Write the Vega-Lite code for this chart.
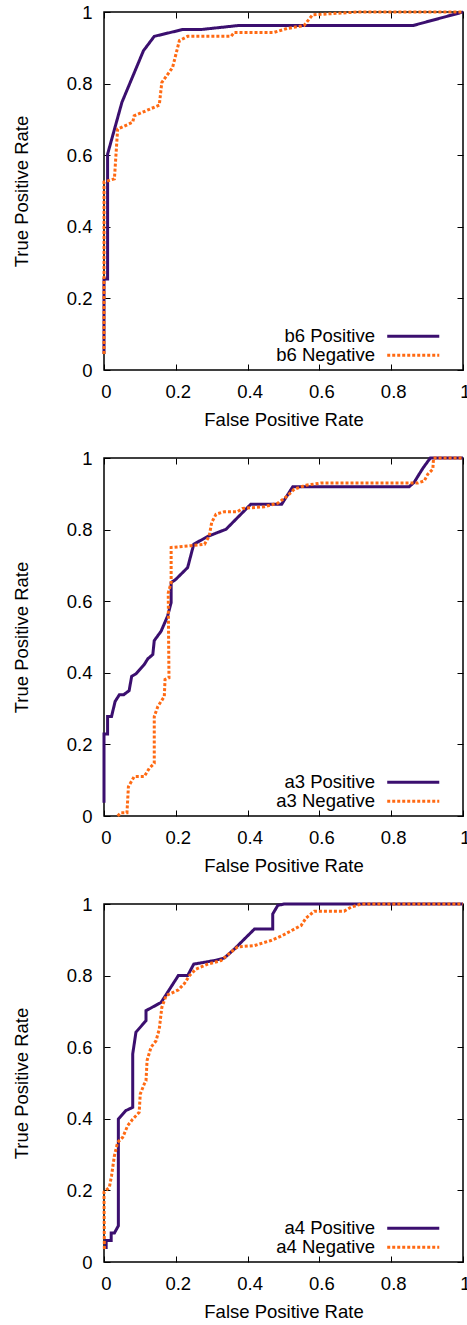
{
  "$schema": "https://vega.github.io/schema/vega-lite/v6.json",
  "autosize": {"type": "pad"},
  "padding": {"left": 11, "top": 2, "right": 0, "bottom": 0},
  "background": "white",
  "datasets": {
    "b6_pos": [
      {"series": "b6 Positive", "fpr": 0, "tpr": 0.045},
      {"series": "b6 Positive", "fpr": 0, "tpr": 0.254},
      {"series": "b6 Positive", "fpr": 0.01, "tpr": 0.254},
      {"series": "b6 Positive", "fpr": 0.01, "tpr": 0.603},
      {"series": "b6 Positive", "fpr": 0.05, "tpr": 0.748},
      {"series": "b6 Positive", "fpr": 0.11, "tpr": 0.892},
      {"series": "b6 Positive", "fpr": 0.14, "tpr": 0.932},
      {"series": "b6 Positive", "fpr": 0.219, "tpr": 0.951},
      {"series": "b6 Positive", "fpr": 0.27, "tpr": 0.951},
      {"series": "b6 Positive", "fpr": 0.372, "tpr": 0.962},
      {"series": "b6 Positive", "fpr": 0.86, "tpr": 0.962},
      {"series": "b6 Positive", "fpr": 1, "tpr": 1}
    ],
    "b6_neg": [
      {"series": "b6 Negative", "fpr": 0, "tpr": 0.045},
      {"series": "b6 Negative", "fpr": 0, "tpr": 0.525},
      {"series": "b6 Negative", "fpr": 0.029, "tpr": 0.534},
      {"series": "b6 Negative", "fpr": 0.038, "tpr": 0.673},
      {"series": "b6 Negative", "fpr": 0.08, "tpr": 0.692},
      {"series": "b6 Negative", "fpr": 0.084, "tpr": 0.71},
      {"series": "b6 Negative", "fpr": 0.154, "tpr": 0.74},
      {"series": "b6 Negative", "fpr": 0.161, "tpr": 0.803},
      {"series": "b6 Negative", "fpr": 0.191, "tpr": 0.845},
      {"series": "b6 Negative", "fpr": 0.21, "tpr": 0.92},
      {"series": "b6 Negative", "fpr": 0.233, "tpr": 0.932},
      {"series": "b6 Negative", "fpr": 0.354, "tpr": 0.932},
      {"series": "b6 Negative", "fpr": 0.363, "tpr": 0.943},
      {"series": "b6 Negative", "fpr": 0.474, "tpr": 0.943},
      {"series": "b6 Negative", "fpr": 0.51, "tpr": 0.954},
      {"series": "b6 Negative", "fpr": 0.557, "tpr": 0.962},
      {"series": "b6 Negative", "fpr": 0.581, "tpr": 0.992},
      {"series": "b6 Negative", "fpr": 0.707, "tpr": 1.0},
      {"series": "b6 Negative", "fpr": 1, "tpr": 1}
    ],
    "a3_pos": [
      {"series": "a3 Positive", "fpr": 0, "tpr": 0.037},
      {"series": "a3 Positive", "fpr": 0, "tpr": 0.229},
      {"series": "a3 Positive", "fpr": 0.01, "tpr": 0.229},
      {"series": "a3 Positive", "fpr": 0.01, "tpr": 0.278},
      {"series": "a3 Positive", "fpr": 0.021, "tpr": 0.278},
      {"series": "a3 Positive", "fpr": 0.031, "tpr": 0.32},
      {"series": "a3 Positive", "fpr": 0.043, "tpr": 0.339},
      {"series": "a3 Positive", "fpr": 0.055, "tpr": 0.339},
      {"series": "a3 Positive", "fpr": 0.07, "tpr": 0.35},
      {"series": "a3 Positive", "fpr": 0.077, "tpr": 0.39},
      {"series": "a3 Positive", "fpr": 0.089, "tpr": 0.397},
      {"series": "a3 Positive", "fpr": 0.112, "tpr": 0.423},
      {"series": "a3 Positive", "fpr": 0.122, "tpr": 0.439},
      {"series": "a3 Positive", "fpr": 0.136, "tpr": 0.451},
      {"series": "a3 Positive", "fpr": 0.14, "tpr": 0.49},
      {"series": "a3 Positive", "fpr": 0.159, "tpr": 0.516},
      {"series": "a3 Positive", "fpr": 0.177, "tpr": 0.558},
      {"series": "a3 Positive", "fpr": 0.187, "tpr": 0.596},
      {"series": "a3 Positive", "fpr": 0.187, "tpr": 0.652},
      {"series": "a3 Positive", "fpr": 0.2, "tpr": 0.661},
      {"series": "a3 Positive", "fpr": 0.233, "tpr": 0.694},
      {"series": "a3 Positive", "fpr": 0.25, "tpr": 0.759},
      {"series": "a3 Positive", "fpr": 0.289, "tpr": 0.781},
      {"series": "a3 Positive", "fpr": 0.34, "tpr": 0.801},
      {"series": "a3 Positive", "fpr": 0.409, "tpr": 0.871},
      {"series": "a3 Positive", "fpr": 0.495, "tpr": 0.871},
      {"series": "a3 Positive", "fpr": 0.526, "tpr": 0.92},
      {"series": "a3 Positive", "fpr": 0.85, "tpr": 0.92},
      {"series": "a3 Positive", "fpr": 0.864, "tpr": 0.932},
      {"series": "a3 Positive", "fpr": 0.878, "tpr": 0.955},
      {"series": "a3 Positive", "fpr": 0.89, "tpr": 0.974},
      {"series": "a3 Positive", "fpr": 0.909, "tpr": 1.0},
      {"series": "a3 Positive", "fpr": 1, "tpr": 1}
    ],
    "a3_neg": [
      {"series": "a3 Negative", "fpr": 0.038, "tpr": 0},
      {"series": "a3 Negative", "fpr": 0.047, "tpr": 0.009},
      {"series": "a3 Negative", "fpr": 0.064, "tpr": 0.009},
      {"series": "a3 Negative", "fpr": 0.068, "tpr": 0.082},
      {"series": "a3 Negative", "fpr": 0.084, "tpr": 0.11},
      {"series": "a3 Negative", "fpr": 0.112, "tpr": 0.11},
      {"series": "a3 Negative", "fpr": 0.126, "tpr": 0.133},
      {"series": "a3 Negative", "fpr": 0.14, "tpr": 0.147},
      {"series": "a3 Negative", "fpr": 0.14, "tpr": 0.278},
      {"series": "a3 Negative", "fpr": 0.15, "tpr": 0.306},
      {"series": "a3 Negative", "fpr": 0.168, "tpr": 0.334},
      {"series": "a3 Negative", "fpr": 0.17, "tpr": 0.381},
      {"series": "a3 Negative", "fpr": 0.181, "tpr": 0.386},
      {"series": "a3 Negative", "fpr": 0.18, "tpr": 0.49},
      {"series": "a3 Negative", "fpr": 0.179, "tpr": 0.623},
      {"series": "a3 Negative", "fpr": 0.187, "tpr": 0.652},
      {"series": "a3 Negative", "fpr": 0.187, "tpr": 0.75},
      {"series": "a3 Negative", "fpr": 0.242, "tpr": 0.755},
      {"series": "a3 Negative", "fpr": 0.28, "tpr": 0.759},
      {"series": "a3 Negative", "fpr": 0.293, "tpr": 0.782},
      {"series": "a3 Negative", "fpr": 0.3, "tpr": 0.82},
      {"series": "a3 Negative", "fpr": 0.312, "tpr": 0.843},
      {"series": "a3 Negative", "fpr": 0.335, "tpr": 0.85},
      {"series": "a3 Negative", "fpr": 0.372, "tpr": 0.85},
      {"series": "a3 Negative", "fpr": 0.386, "tpr": 0.859},
      {"series": "a3 Negative", "fpr": 0.41, "tpr": 0.861},
      {"series": "a3 Negative", "fpr": 0.447, "tpr": 0.864},
      {"series": "a3 Negative", "fpr": 0.484, "tpr": 0.874},
      {"series": "a3 Negative", "fpr": 0.511, "tpr": 0.894},
      {"series": "a3 Negative", "fpr": 0.53, "tpr": 0.913},
      {"series": "a3 Negative", "fpr": 0.563, "tpr": 0.924},
      {"series": "a3 Negative", "fpr": 0.604, "tpr": 0.93},
      {"series": "a3 Negative", "fpr": 0.874, "tpr": 0.93},
      {"series": "a3 Negative", "fpr": 0.892, "tpr": 0.936},
      {"series": "a3 Negative", "fpr": 0.902, "tpr": 0.955},
      {"series": "a3 Negative", "fpr": 0.916, "tpr": 0.969},
      {"series": "a3 Negative", "fpr": 0.918, "tpr": 1.0},
      {"series": "a3 Negative", "fpr": 1, "tpr": 1}
    ],
    "a4_pos": [
      {"series": "a4 Positive", "fpr": 0.006, "tpr": 0.036},
      {"series": "a4 Positive", "fpr": 0.006, "tpr": 0.06},
      {"series": "a4 Positive", "fpr": 0.02, "tpr": 0.06},
      {"series": "a4 Positive", "fpr": 0.02, "tpr": 0.081},
      {"series": "a4 Positive", "fpr": 0.029, "tpr": 0.081},
      {"series": "a4 Positive", "fpr": 0.04, "tpr": 0.101},
      {"series": "a4 Positive", "fpr": 0.04, "tpr": 0.399},
      {"series": "a4 Positive", "fpr": 0.061, "tpr": 0.423},
      {"series": "a4 Positive", "fpr": 0.08, "tpr": 0.432},
      {"series": "a4 Positive", "fpr": 0.08, "tpr": 0.581},
      {"series": "a4 Positive", "fpr": 0.089, "tpr": 0.642},
      {"series": "a4 Positive", "fpr": 0.117, "tpr": 0.674},
      {"series": "a4 Positive", "fpr": 0.117, "tpr": 0.702},
      {"series": "a4 Positive", "fpr": 0.159, "tpr": 0.725},
      {"series": "a4 Positive", "fpr": 0.177, "tpr": 0.753},
      {"series": "a4 Positive", "fpr": 0.207, "tpr": 0.8},
      {"series": "a4 Positive", "fpr": 0.233, "tpr": 0.8},
      {"series": "a4 Positive", "fpr": 0.25, "tpr": 0.832},
      {"series": "a4 Positive", "fpr": 0.307, "tpr": 0.842},
      {"series": "a4 Positive", "fpr": 0.335, "tpr": 0.849},
      {"series": "a4 Positive", "fpr": 0.363, "tpr": 0.874},
      {"series": "a4 Positive", "fpr": 0.419, "tpr": 0.93},
      {"series": "a4 Positive", "fpr": 0.47, "tpr": 0.93},
      {"series": "a4 Positive", "fpr": 0.47, "tpr": 0.972},
      {"series": "a4 Positive", "fpr": 0.484, "tpr": 0.996},
      {"series": "a4 Positive", "fpr": 0.502, "tpr": 1.0},
      {"series": "a4 Positive", "fpr": 1, "tpr": 1}
    ],
    "a4_neg": [
      {"series": "a4 Negative", "fpr": 0.001, "tpr": 0.036},
      {"series": "a4 Negative", "fpr": 0, "tpr": 0.195},
      {"series": "a4 Negative", "fpr": 0.015, "tpr": 0.209},
      {"series": "a4 Negative", "fpr": 0.021, "tpr": 0.241},
      {"series": "a4 Negative", "fpr": 0.029, "tpr": 0.297},
      {"series": "a4 Negative", "fpr": 0.038, "tpr": 0.334},
      {"series": "a4 Negative", "fpr": 0.052, "tpr": 0.348},
      {"series": "a4 Negative", "fpr": 0.066, "tpr": 0.381},
      {"series": "a4 Negative", "fpr": 0.08, "tpr": 0.399},
      {"series": "a4 Negative", "fpr": 0.098, "tpr": 0.418},
      {"series": "a4 Negative", "fpr": 0.101, "tpr": 0.469},
      {"series": "a4 Negative", "fpr": 0.112, "tpr": 0.497},
      {"series": "a4 Negative", "fpr": 0.117, "tpr": 0.506},
      {"series": "a4 Negative", "fpr": 0.12, "tpr": 0.563},
      {"series": "a4 Negative", "fpr": 0.131, "tpr": 0.6},
      {"series": "a4 Negative", "fpr": 0.145, "tpr": 0.618},
      {"series": "a4 Negative", "fpr": 0.154, "tpr": 0.651},
      {"series": "a4 Negative", "fpr": 0.161, "tpr": 0.711},
      {"series": "a4 Negative", "fpr": 0.173, "tpr": 0.744},
      {"series": "a4 Negative", "fpr": 0.207, "tpr": 0.76},
      {"series": "a4 Negative", "fpr": 0.224, "tpr": 0.778},
      {"series": "a4 Negative", "fpr": 0.238, "tpr": 0.8},
      {"series": "a4 Negative", "fpr": 0.256, "tpr": 0.818},
      {"series": "a4 Negative", "fpr": 0.289, "tpr": 0.832},
      {"series": "a4 Negative", "fpr": 0.326, "tpr": 0.842},
      {"series": "a4 Negative", "fpr": 0.354, "tpr": 0.866},
      {"series": "a4 Negative", "fpr": 0.372, "tpr": 0.88},
      {"series": "a4 Negative", "fpr": 0.419, "tpr": 0.884},
      {"series": "a4 Negative", "fpr": 0.465, "tpr": 0.898},
      {"series": "a4 Negative", "fpr": 0.493, "tpr": 0.91},
      {"series": "a4 Negative", "fpr": 0.549, "tpr": 0.94},
      {"series": "a4 Negative", "fpr": 0.563, "tpr": 0.961},
      {"series": "a4 Negative", "fpr": 0.586, "tpr": 0.98},
      {"series": "a4 Negative", "fpr": 0.669, "tpr": 0.98},
      {"series": "a4 Negative", "fpr": 0.688, "tpr": 0.991},
      {"series": "a4 Negative", "fpr": 0.716, "tpr": 1.0},
      {"series": "a4 Negative", "fpr": 1, "tpr": 1}
    ]
  },
  "spacing": 88,
  "bounds": "flush",
  "resolve": {
    "scale": {"color": "independent", "strokeDash": "independent"},
    "legend": {"color": "independent", "strokeDash": "independent"}
  },
  "vconcat": [
    {
      "width": 359,
      "height": 358,
      "resolve": {"axis": {"x": "independent", "y": "independent"}},
      "layer": [
        {
          "data": {"name": "b6_pos"},
          "mark": {"type": "line", "strokeWidth": 3},
          "encoding": {
            "x": {"field": "fpr", "type": "quantitative", "scale": {"domain": [0, 1]}, "axis": {"orient": "bottom", "title": "False Positive Rate", "values": [0, 0.2, 0.4, 0.6, 0.8, 1], "format": "~g"}},
            "y": {"field": "tpr", "type": "quantitative", "scale": {"domain": [0, 1]}, "axis": {"orient": "left", "title": "True Positive Rate", "values": [0, 0.2, 0.4, 0.6, 0.8, 1], "format": "~g"}},
            "color": {"field": "series", "type": "nominal", "scale": {"domain": ["b6 Positive", "b6 Negative"], "range": ["#3b0f6f", "#ff6a13"]}, "legend": {"title": null}},
            "strokeDash": {"field": "series", "type": "nominal", "scale": {"domain": ["b6 Positive", "b6 Negative"], "range": [[1, 0], [3, 2]]}, "legend": {"title": null}},
            "order": {"value": null}
          }
        },
        {
          "data": {"name": "b6_neg"},
          "mark": {"type": "line", "strokeWidth": 3},
          "encoding": {
            "x": {"field": "fpr", "type": "quantitative", "axis": {"orient": "top", "labels": false, "title": null, "values": [0, 0.2, 0.4, 0.6, 0.8, 1]}},
            "y": {"field": "tpr", "type": "quantitative", "axis": {"orient": "right", "labels": false, "title": null, "values": [0, 0.2, 0.4, 0.6, 0.8, 1]}},
            "color": {"field": "series", "type": "nominal", "legend": {"title": null}},
            "strokeDash": {"field": "series", "type": "nominal", "legend": {"title": null}},
            "order": {"value": null}
          }
        }
      ]
    },
    {
      "width": 359,
      "height": 358,
      "resolve": {"axis": {"x": "independent", "y": "independent"}},
      "layer": [
        {
          "data": {"name": "a3_pos"},
          "mark": {"type": "line", "strokeWidth": 3},
          "encoding": {
            "x": {"field": "fpr", "type": "quantitative", "scale": {"domain": [0, 1]}, "axis": {"orient": "bottom", "title": "False Positive Rate", "values": [0, 0.2, 0.4, 0.6, 0.8, 1], "format": "~g"}},
            "y": {"field": "tpr", "type": "quantitative", "scale": {"domain": [0, 1]}, "axis": {"orient": "left", "title": "True Positive Rate", "values": [0, 0.2, 0.4, 0.6, 0.8, 1], "format": "~g"}},
            "color": {"field": "series", "type": "nominal", "scale": {"domain": ["a3 Positive", "a3 Negative"], "range": ["#3b0f6f", "#ff6a13"]}, "legend": {"title": null}},
            "strokeDash": {"field": "series", "type": "nominal", "scale": {"domain": ["a3 Positive", "a3 Negative"], "range": [[1, 0], [3, 2]]}, "legend": {"title": null}},
            "order": {"value": null}
          }
        },
        {
          "data": {"name": "a3_neg"},
          "mark": {"type": "line", "strokeWidth": 3},
          "encoding": {
            "x": {"field": "fpr", "type": "quantitative", "axis": {"orient": "top", "labels": false, "title": null, "values": [0, 0.2, 0.4, 0.6, 0.8, 1]}},
            "y": {"field": "tpr", "type": "quantitative", "axis": {"orient": "right", "labels": false, "title": null, "values": [0, 0.2, 0.4, 0.6, 0.8, 1]}},
            "color": {"field": "series", "type": "nominal", "legend": {"title": null}},
            "strokeDash": {"field": "series", "type": "nominal", "legend": {"title": null}},
            "order": {"value": null}
          }
        }
      ]
    },
    {
      "width": 359,
      "height": 358,
      "resolve": {"axis": {"x": "independent", "y": "independent"}},
      "layer": [
        {
          "data": {"name": "a4_pos"},
          "mark": {"type": "line", "strokeWidth": 3},
          "encoding": {
            "x": {"field": "fpr", "type": "quantitative", "scale": {"domain": [0, 1]}, "axis": {"orient": "bottom", "title": "False Positive Rate", "values": [0, 0.2, 0.4, 0.6, 0.8, 1], "format": "~g"}},
            "y": {"field": "tpr", "type": "quantitative", "scale": {"domain": [0, 1]}, "axis": {"orient": "left", "title": "True Positive Rate", "values": [0, 0.2, 0.4, 0.6, 0.8, 1], "format": "~g"}},
            "color": {"field": "series", "type": "nominal", "scale": {"domain": ["a4 Positive", "a4 Negative"], "range": ["#3b0f6f", "#ff6a13"]}, "legend": {"title": null}},
            "strokeDash": {"field": "series", "type": "nominal", "scale": {"domain": ["a4 Positive", "a4 Negative"], "range": [[1, 0], [3, 2]]}, "legend": {"title": null}},
            "order": {"value": null}
          }
        },
        {
          "data": {"name": "a4_neg"},
          "mark": {"type": "line", "strokeWidth": 3},
          "encoding": {
            "x": {"field": "fpr", "type": "quantitative", "axis": {"orient": "top", "labels": false, "title": null, "values": [0, 0.2, 0.4, 0.6, 0.8, 1]}},
            "y": {"field": "tpr", "type": "quantitative", "axis": {"orient": "right", "labels": false, "title": null, "values": [0, 0.2, 0.4, 0.6, 0.8, 1]}},
            "color": {"field": "series", "type": "nominal", "legend": {"title": null}},
            "strokeDash": {"field": "series", "type": "nominal", "legend": {"title": null}},
            "order": {"value": null}
          }
        }
      ]
    }
  ],
  "config": {
    "font": "Liberation Sans",
    "view": {"stroke": "#000000", "strokeWidth": 1.5},
    "axis": {
      "grid": false,
      "domain": false,
      "tickColor": "#000000",
      "tickSize": -6,
      "tickWidth": 1,
      "labelFlush": false,
      "labelOverlap": false,
      "labelFont": "Liberation Sans",
      "labelFontSize": 18.5,
      "labelColor": "#000000",
      "labelPadding": 18,
      "titleFont": "Liberation Sans",
      "titleFontSize": 18.5,
      "titleFontWeight": "normal",
      "titleColor": "#000000"
    },
    "axisX": {"titlePadding": 10, "labelOffset": 2},
    "axisY": {"titlePadding": 35},
    "legend": {
      "orient": "none",
      "legendX": 300,
      "legendY": 315,
      "padding": 0,
      "rowPadding": 0,
      "symbolType": "M-3.47,0H3.47",
      "symbolSize": 225,
      "symbolStrokeWidth": 3,
      "labelAlign": "right",
      "labelOffset": -47.5,
      "labelFont": "Liberation Sans",
      "labelFontSize": 18.5,
      "labelColor": "#000000",
      "labelLimit": 300
    }
  }
}
